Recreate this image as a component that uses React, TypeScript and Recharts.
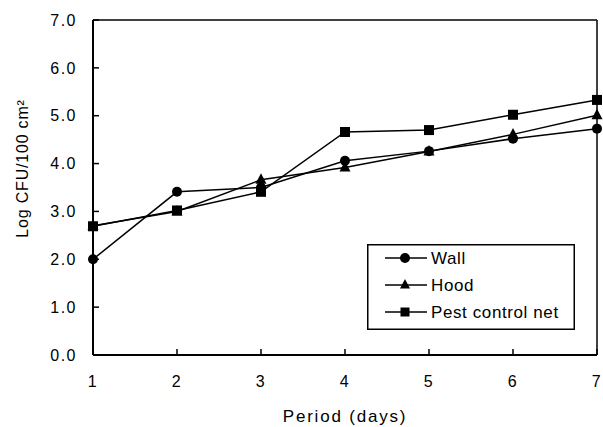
import React from "react";
import { LineChart, Line, XAxis, YAxis, ReferenceLine, Legend } from "recharts";

const days = [1, 2, 3, 4, 5, 6, 7];
const wall = [2.0, 3.41, 3.5, 4.06, 4.26, 4.52, 4.73];
const hood = [2.7, 3.0, 3.66, 3.92, 4.25, 4.61, 5.01];
const pest = [2.69, 3.02, 3.41, 4.66, 4.7, 5.02, 5.33];
const yTicks = [0, 1, 2, 3, 4, 5, 6, 7];
const seriesNames = ["Wall", "Hood", "Pest control net"];
const xLabel = "Period (days)";
const yLabel = "Log CFU/100 cm\u00B2";

const data = days.map((d, i) => ({ day: d, wall: wall[i], hood: hood[i], pest: pest[i] }));

const FONT = "'Liberation Sans', Arial, Helvetica, sans-serif";

const CircleDot = (p: any) => <circle cx={p.cx} cy={p.cy} r={5} fill="#000" />;
const TriDot = (p: any) => (
  <polygon points={`${p.cx},${p.cy - 6.5} ${p.cx - 5.5},${p.cy + 4} ${p.cx + 5.5},${p.cy + 4}`} fill="#000" />
);
const SquareDot = (p: any) => <rect x={p.cx - 5} y={p.cy - 5} width={10} height={10} fill="#000" />;

const LegendBox = () => {
  const rows = [
    { name: seriesNames[0], m: (cx: number, cy: number) => <circle cx={cx} cy={cy} r={5} fill="#000" /> },
    { name: seriesNames[1], m: (cx: number, cy: number) => <polygon points={`${cx},${cy - 6} ${cx - 5},${cy + 3.5} ${cx + 5},${cy + 3.5}`} fill="#000" /> },
    { name: seriesNames[2], m: (cx: number, cy: number) => <rect x={cx - 4.5} y={cy - 4.5} width={9} height={9} fill="#000" /> },
  ];
  return (
    <svg width={208} height={86} style={{ display: "block" }}>
      <rect x={0.75} y={0.75} width={206.5} height={84.5} fill="#fff" stroke="#000" strokeWidth={1.5} />
      {rows.map((r, i) => {
        const cy = 14 + i * 27;
        return (
          <g key={r.name}>
            <line x1={18} x2={60} y1={cy} y2={cy} stroke="#000" strokeWidth={1.5} />
            {r.m(38, cy)}
            <text x={64} y={cy + 6} fontSize={17} fontFamily={FONT} letterSpacing={0.6} fill="#000">
              {r.name}
            </text>
          </g>
        );
      })}
    </svg>
  );
};

const YLabel = (props: any) => {
  const vb = props.viewBox || { x: 0, y: 0, width: 0, height: 0 };
  const x = vb.x + 28;
  const y = vb.y + vb.height / 2 - 19;
  return (
    <text
      x={x}
      y={y}
      transform={`rotate(-90, ${x}, ${y})`}
      textAnchor="middle"
      fontSize={16}
      fontFamily={FONT}
      letterSpacing={0.8}
      fill="#000"
    >
      {yLabel}
    </text>
  );
};

export default function App() {
  return (
    <div style={{ position: "absolute", left: 0, top: 0, width: 603, height: 427, background: "#fff" }}>
      <LineChart width={603} height={427} data={data} margin={{ top: 20, right: 6, left: 0, bottom: 0 }}>
        <XAxis
          dataKey="day"
          type="number"
          domain={[1, 7]}
          ticks={days}
          height={72}
          axisLine={{ stroke: "#000", strokeWidth: 2 }}
          tickLine={{ stroke: "#000", strokeWidth: 1.5 }}
          tickSize={-6}
          tickMargin={27}
          tick={{ fontSize: 16, fill: "#000", fontFamily: FONT, letterSpacing: 1.5 }}
          label={{ value: xLabel, position: "insideBottom", offset: 5, fontSize: 17, fill: "#000", fontFamily: FONT, letterSpacing: 1.8 }}
        />
        <YAxis
          type="number"
          domain={[0, 7]}
          ticks={yTicks}
          width={93}
          axisLine={{ stroke: "#000", strokeWidth: 2 }}
          tickLine={{ stroke: "#000", strokeWidth: 1.5 }}
          tickSize={-6}
          tickMargin={22}
          tickFormatter={(v: number) => v.toFixed(1)}
          tick={{ fontSize: 16, fill: "#000", fontFamily: FONT, letterSpacing: 1.5 }}
          label={<YLabel />}
        />
        <ReferenceLine y={7} stroke="#000" strokeWidth={1.5} />
        <ReferenceLine x={7} stroke="#000" strokeWidth={1.5} />
        <Line dataKey="wall" stroke="#000" strokeWidth={1.5} dot={<CircleDot />} isAnimationActive={false} />
        <Line dataKey="hood" stroke="#000" strokeWidth={1.5} dot={<TriDot />} isAnimationActive={false} />
        <Line dataKey="pest" stroke="#000" strokeWidth={1.5} dot={<SquareDot />} isAnimationActive={false} />
        <Legend
          layout="vertical"
          verticalAlign="middle"
          align="center"
          content={() => <LegendBox />}
          wrapperStyle={{ position: "absolute", left: 367, top: 244, width: 208, height: 86, margin: 0, padding: 0 }}
        />
      </LineChart>
    </div>
  );
}
